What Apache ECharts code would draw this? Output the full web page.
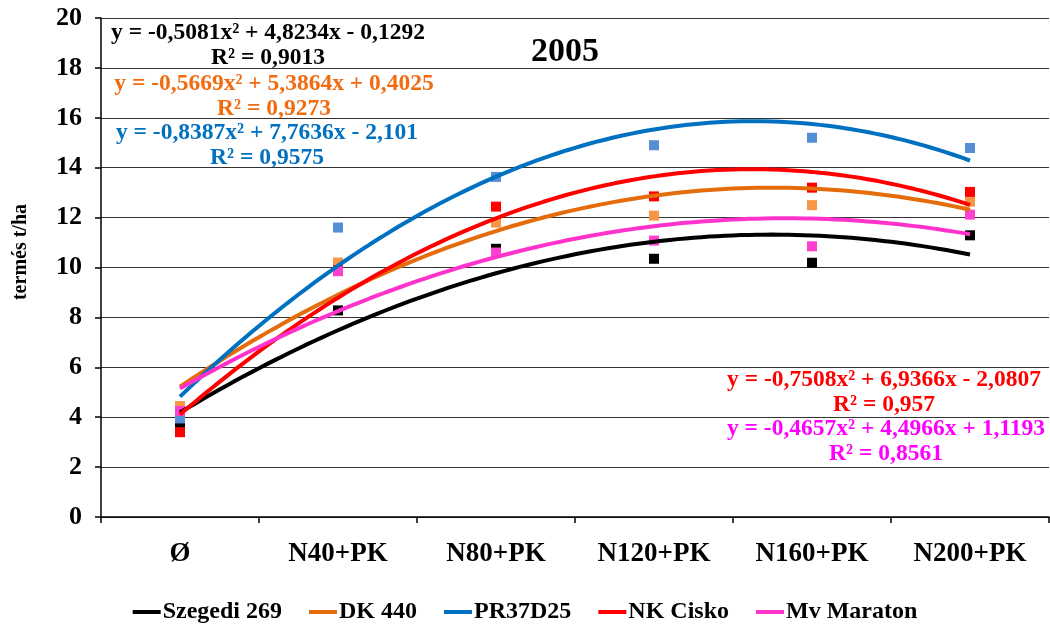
<!DOCTYPE html>
<html>
<head>
<meta charset="utf-8">
<script src="https://cdn.jsdelivr.net/npm/echarts@6/dist/echarts.min.js"></script>
<style>html,body{margin:0;padding:0;background:#fff}#c{width:1050px;height:631px}</style>
</head>
<body>
<div id="c"></div>
<script>
// ---- data ----
var categories = ['Ø', 'N40+PK', 'N80+PK', 'N120+PK', 'N160+PK', 'N200+PK'];
var seriesNames = ['Szegedi 269', 'DK 440', 'PR37D25', 'NK Cisko', 'Mv Maraton'];
var szegedi = [3.7, 8.28, 10.75, 10.35, 10.19, 11.29];
var dk440 = [4.45, 10.2, 11.8, 12.08, 12.5, 12.64];
var pr37d25 = [3.95, 11.6, 13.63, 14.9, 15.2, 14.79];
var nkCisko = [3.4, 9.9, 12.44, 12.85, 13.2, 13.03];
var mvMaraton = [4.25, 9.85, 10.6, 11.08, 10.85, 12.12];
// trendline coefficients (a, b, c) for y = a x^2 + b x + c, as printed on the chart
var coefSzegedi = [-0.5081, 4.8234, -0.1292];
var coefDK = [-0.5669, 5.3864, 0.4025];
var coefPR = [-0.8387, 7.7636, -2.101];
var coefNK = [-0.7508, 6.9366, -2.0807];
var coefMv = [-0.4657, 4.4966, 1.1193];
var eqTexts = [
  'y = -0,5081x² + 4,8234x - 0,1292\nR² = 0,9013',
  'y = -0,5669x² + 5,3864x + 0,4025\nR² = 0,9273',
  'y = -0,8387x² + 7,7636x - 2,101\nR² = 0,9575',
  'y = -0,7508x² + 6,9366x - 2,0807\nR² = 0,957',
  'y = -0,4657x² + 4,4966x + 1,1193\nR² = 0,8561'
];
var yTicks = [0, 20, 2];

// ---- styles ----
var FONT = '"Liberation Serif", "Times New Roman", serif';
var lineColors = ['#000000', '#E46C0A', '#0070C0', '#FF0000', '#FF33CC'];
var markColors = ['#000000', '#F79646', '#558ED5', '#FF0000', '#FF3FD0'];
var eqColors = ['#000000', '#F26B0F', '#0070C0', '#FF0000', '#FF00FF'];
var eqPos = [[268, 20], [274, 71], [267, 120], [884, 367], [886, 416]];

var values = [szegedi, dk440, pr37d25, nkCisko, mvMaraton];
var coefs = [coefSzegedi, coefDK, coefPR, coefNK, coefMv];

function trend(c) {
  var pts = [];
  for (var i = 0; i <= 100; i++) {
    var x = 1 + i * 0.05;
    pts.push([x, c[0] * x * x + c[1] * x + c[2]]);
  }
  return pts;
}

var series = [];
values.forEach(function (v, k) {
  series.push({
    name: seriesNames[k], type: 'scatter', xAxisIndex: 1, z: 2,
    symbol: 'rect', symbolSize: 10,
    itemStyle: { color: markColors[k], opacity: 1 },
    emphasis: { disabled: true },
    data: v.map(function (y, i) { return [i + 1, y]; })
  });
});
coefs.forEach(function (c, k) {
  series.push({
    name: seriesNames[k], type: 'line', xAxisIndex: 1, z: 3,
    showSymbol: false, symbol: 'none', smooth: false,
    lineStyle: { color: lineColors[k], width: 4 },
    itemStyle: { color: lineColors[k] },
    data: trend(c)
  });
});

var graphics = [
  { type: 'text', x: 565, y: 52, style: { text: '2005', font: 'bold 34px ' + FONT, fill: '#000', textAlign: 'center', textVerticalAlign: 'middle' } },
  { type: 'text', x: 21, y: 252, rotation: Math.PI / 2,
    style: { text: 'termés t/ha', font: 'bold 20px ' + FONT, fill: '#000', textAlign: 'center', textVerticalAlign: 'middle' } }
];
eqTexts.forEach(function (t, k) {
  graphics.push({ type: 'text', x: eqPos[k][0], y: eqPos[k][1],
    style: { text: t, font: 'bold 23.5px ' + FONT, fill: eqColors[k], textAlign: 'center', textVerticalAlign: 'top', lineHeight: 25 } });
});

var chart = echarts.init(document.getElementById('c'));
chart.setOption({
  animation: false,
  backgroundColor: '#fff',
  grid: { left: 101, right: 1, top: 18, bottom: 114, containLabel: false },
  legend: {
    bottom: 2, left: 'center',
    icon: 'rect', itemWidth: 28, itemHeight: 4, itemGap: 27,
    textStyle: { fontFamily: FONT, fontWeight: 'bold', fontSize: 24, color: '#000', padding: [0, 0, 0, -3] },
    data: seriesNames.map(function (n, k) { return { name: n, itemStyle: { color: lineColors[k] } }; })
  },
  xAxis: [
    { type: 'category', data: categories, boundaryGap: true,
      axisLine: { show: true, lineStyle: { color: '#000', width: 1.5 } },
      axisTick: { show: true, length: 6, lineStyle: { color: '#000', width: 1.5 } },
      axisLabel: { fontFamily: FONT, fontWeight: 'bold', fontSize: 27, color: '#000', margin: 24 },
      splitLine: { show: false } },
    { type: 'value', min: 0.5, max: 6.5, show: false, splitLine: { show: false } }
  ],
  yAxis: {
    type: 'value', min: yTicks[0], max: yTicks[1], interval: yTicks[2],
    axisLine: { show: true, lineStyle: { color: '#000', width: 1.5 } },
    axisTick: { show: true, length: 6, lineStyle: { color: '#000', width: 1.5 } },
    axisLabel: { fontFamily: FONT, fontWeight: 'bold', fontSize: 26, color: '#000', margin: 19 },
    splitLine: { show: true, lineStyle: { color: '#333', width: 1 } }
  },
  graphic: graphics,
  series: series
});
</script>
</body>
</html>
